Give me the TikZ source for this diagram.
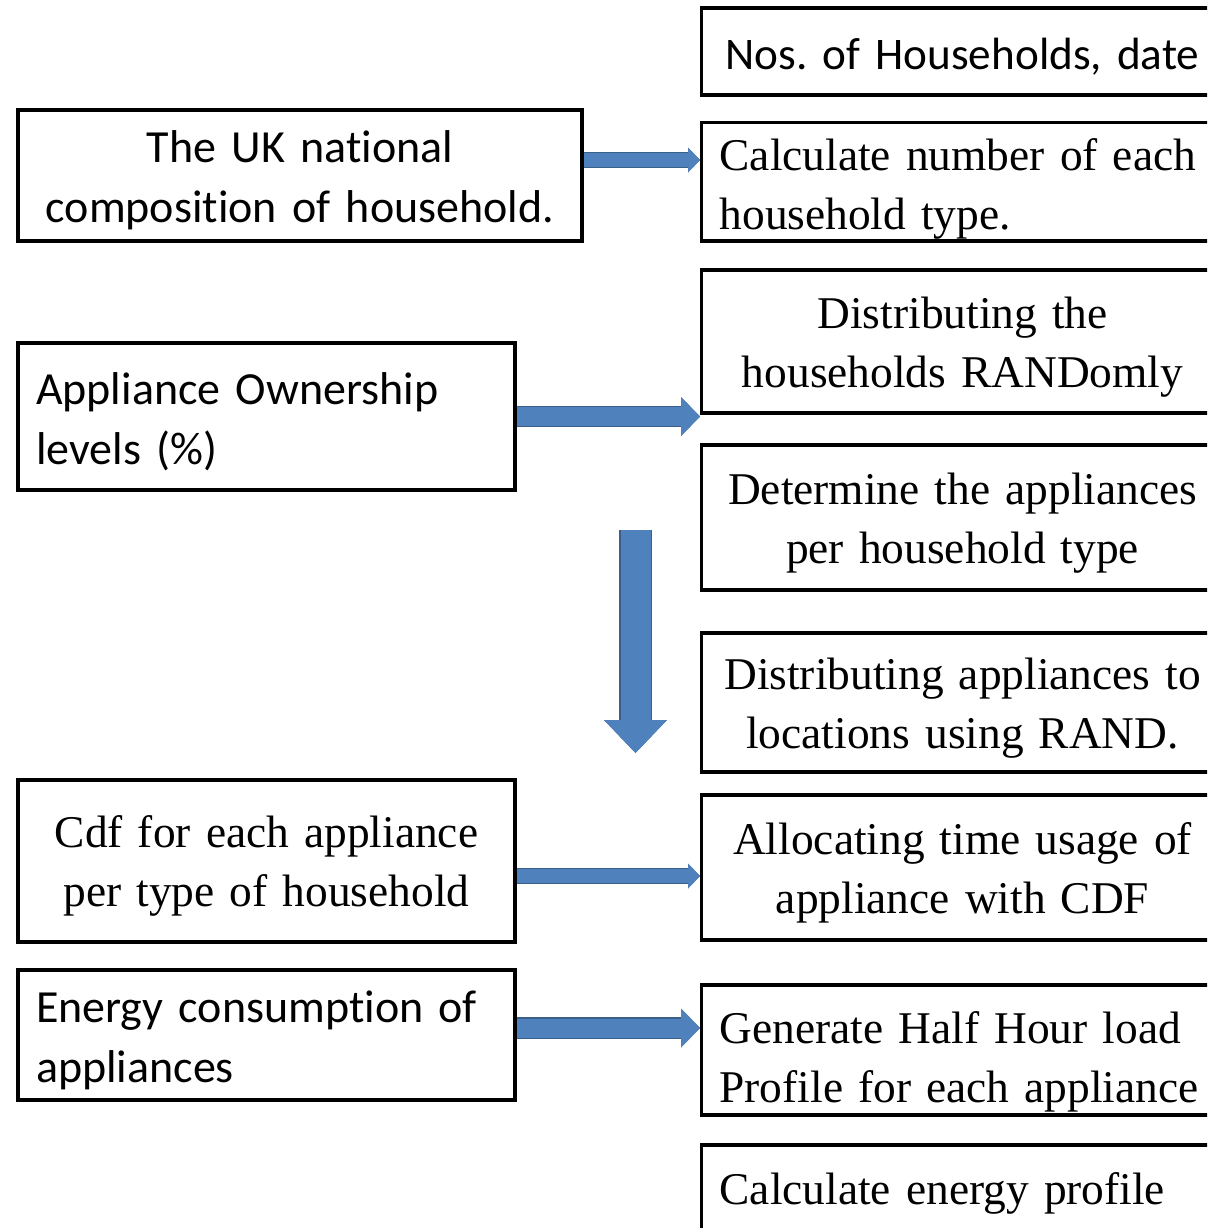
\documentclass[tikz,border=0pt]{standalone}
\usepackage{fontspec}
\setmainfont{Liberation Serif}
\newfontfamily\calibri[Ligatures=NoCommon]{Carlito}
\usetikzlibrary{arrows.meta}
\definecolor{flowblue}{HTML}{4F81BD}
\definecolor{flowedge}{HTML}{3A5F8B}
\frenchspacing
\hyphenpenalty=10000
\tikzstyle{lower}=[execute at begin node={\rule{0pt}{#1}}]
\tikzstyle{box}=[draw=black,line width=1.6pt,rectangle,inner xsep=9pt,inner ysep=1pt,lower=21pt,font=\fontsize{22.7}{29.5}\selectfont]
\tikzstyle{rbox}=[box,anchor=west,text width=243pt]
\tikzstyle{lbox}=[box,text width=230.5pt]
\tikzstyle{sans}=[font=\calibri\fontsize{23}{30}\selectfont]

\begin{document}
\begin{tikzpicture}[x=0.5pt,y=-0.5pt]
    \tikzstyle{flow}=[draw=flowblue,line width=#1,preaction={draw=flowedge,line width=#1+1.2pt}]
    \tikzstyle{thinflow}=[flow=7pt,-{Triangle[width=12.5pt,length=6pt,line width=0pt]}]
    \tikzstyle{fatflow}=[flow=9.5pt,-{Triangle[width=19.5pt,length=9.5pt,line width=0pt]}]
    \tikzstyle{dropflow}=[flow=15pt,-{Triangle[width=31.5pt,length=16.5pt,line width=0pt]}]
    \useasboundingbox (0,0) rectangle (1207,1228);
    \clip (0,0) rectangle (1207,1228);
    \node[rbox,font=\calibri\fontsize{22.6}{30}\selectfont,align=center,minimum height=43.5pt] (nos) at (700,51.5) {Nos. of Households, date};
    \node[rbox,lower=23pt,align=left,minimum height=58.5pt] (calc) at (700,181.5) {Calculate number of each\\household type.};
    \node[rbox,align=center,minimum height=71.5pt] (dist) at (700,341.5) {Distributing the\\households RANDomly};
    \node[rbox,align=center,minimum height=72.5pt] (det) at (700,517.5) {Determine the appliances\\per household type};
    \node[rbox,align=center,minimum height=69.5pt] (loc) at (700,702.5) {Distributing appliances to\\locations using RAND.};
    \node[rbox,align=center,minimum height=72.5pt] (alloc) at (700,867.5) {Allocating time usage of\\appliance with CDF};
    \node[rbox,lower=28pt,inner ysep=0pt,align=left,minimum height=65pt] (gen) at (700,1050) {Generate Half Hour load\\Profile for each appliance};
    \node[rbox,align=left,minimum height=43.5pt] (prof) at (700,1188.5) {Calculate energy profile};
    \node[box,sans,text width=264pt,align=center,minimum height=65.5pt] (uk) at (300,175.5) {The UK national\\composition of household.};
    \node[lbox,sans,align=left,minimum height=73.5pt] (own) at (266.5,416.5) {Appliance Ownership\\levels (\%)};
    \node[lbox,lower=17pt,align=center,minimum height=81pt] (cdf) at (266.5,861) {Cdf for each appliance\\per type of household};
    \node[lbox,sans,align=left,minimum height=65pt] (use) at (266.5,1035) {Energy consumption of\\appliances};
    \coordinate (drop) at (635.5,530);
    \coordinate (droptip) at (635.5,753);
    \draw[thinflow] ([yshift=7.75pt]uk.east) -- ([yshift=7.75pt]uk.east -| calc.west);
    \draw[fatflow] (own.east) -- (own.east -| dist.west);
    \draw[dropflow] (drop) -- (droptip);
    \draw[thinflow] ([yshift=-7.5pt]cdf.east) -- ([yshift=-7.5pt]cdf.east -| alloc.west);
    \draw[fatflow] ([yshift=3.5pt]use.east) -- ([yshift=3.5pt]use.east -| gen.west);
\end{tikzpicture}
\end{document}
